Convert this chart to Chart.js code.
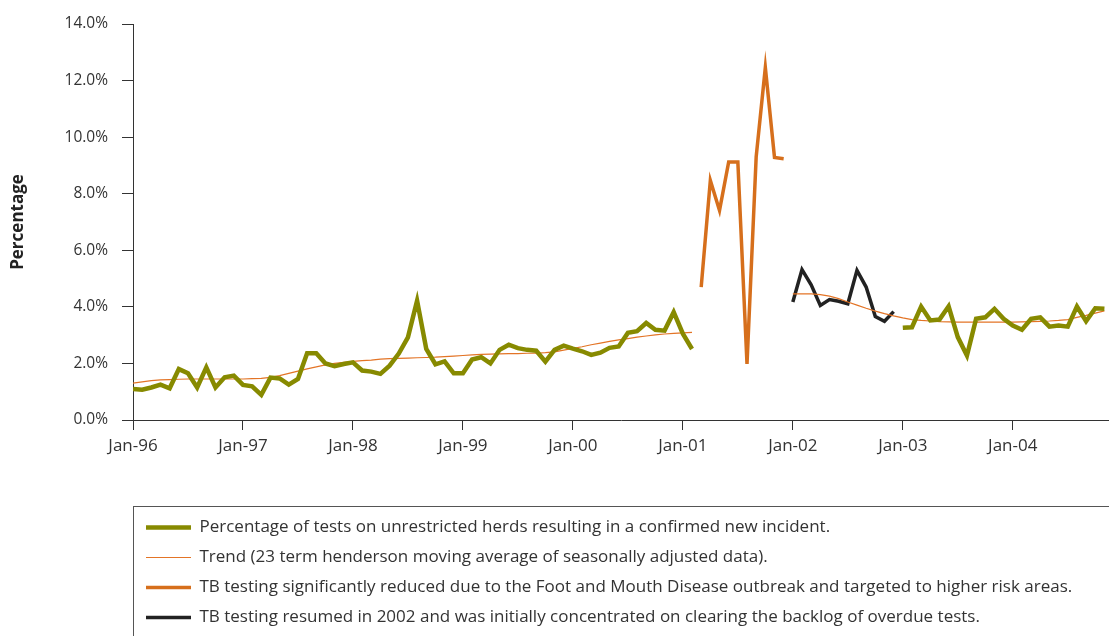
<!DOCTYPE html>
<html>
<head>
<meta charset="utf-8">
<script src="https://cdn.jsdelivr.net/npm/chart.js@4.4.1/dist/chart.umd.min.js"></script>
<style>
  html, body { margin: 0; padding: 0; background: #fff; overflow: hidden; }
  #wrap { position: relative; width: 1109px; height: 636px; }
</style>
</head>
<body>
<div id="wrap"><canvas id="c"></canvas></div>
<script>
// Tick labels (one per January)
const yearTicks = ['Jan-96','Jan-97','Jan-98','Jan-99','Jan-00','Jan-01','Jan-02','Jan-03','Jan-04'];

// Month index of the first value in each series (0 = Jan-96)
const startIncidenceA = 0;   // Jan-96
const startFmd = 62;         // Mar-01
const startResumed = 72;     // Jan-02
const startIncidenceB = 84;  // Jan-03
const startTrendA = 0;       // Jan-96
const startTrendB = 72;      // Jan-02

// Percentage of tests on unrestricted herds resulting in a confirmed new incident (Jan-96 .. Feb-01)
const incidenceA = [1.10,1.07,1.15,1.25,1.12,1.80,1.65,1.15,1.86,1.15,1.51,1.57,
                    1.24,1.19,0.89,1.50,1.47,1.25,1.45,2.36,2.36,2.00,1.90,1.98,
                    2.04,1.75,1.71,1.63,1.92,2.35,2.92,4.22,2.51,1.97,2.07,1.65,
                    1.65,2.14,2.22,2.00,2.48,2.66,2.54,2.48,2.45,2.06,2.48,2.63,
                    2.52,2.43,2.30,2.38,2.55,2.60,3.08,3.14,3.43,3.19,3.16,3.81,
                    3.05,2.51];
// Same series, Jan-03 onwards
const incidenceB = [3.26,3.28,4.01,3.52,3.55,4.02,2.93,2.28,3.58,3.63,3.93,3.58,
                    3.34,3.19,3.58,3.63,3.30,3.34,3.30,4.01,3.49,3.95,3.93];
// FMD outbreak period (Mar-01 .. Dec-01)
const fmdPeriod = [4.70,8.47,7.41,9.12,9.12,1.98,9.30,12.46,9.28,9.24];
// Testing resumed 2002 (Jan-02 .. Dec-02)
const resumed2002 = [4.17,5.32,4.78,4.05,4.26,4.20,4.11,5.29,4.70,3.66,3.49,3.83];
// Trend (23 term Henderson moving average)
const trendA = [1.30,1.35,1.39,1.42,1.43,1.44,1.45,1.45,1.45,1.45,1.45,1.45,
                1.45,1.46,1.47,1.51,1.57,1.65,1.73,1.81,1.88,1.95,2.00,2.04,
                2.07,2.10,2.12,2.15,2.17,2.18,2.19,2.20,2.21,2.22,2.24,2.26,
                2.28,2.30,2.32,2.33,2.34,2.35,2.35,2.36,2.36,2.38,2.41,2.47,
                2.53,2.59,2.66,2.72,2.78,2.83,2.88,2.93,2.97,3.01,3.04,3.06,
                3.08,3.10];
const trendB = [4.46,4.46,4.46,4.43,4.38,4.29,4.17,4.06,3.95,3.85,3.76,3.68,
                3.61,3.55,3.52,3.50,3.48,3.47,3.46,3.46,3.46,3.46,3.46,3.46,
                3.46,3.47,3.48,3.49,3.50,3.52,3.55,3.63,3.70,3.78,3.86];

const legendLabels = [
  'Percentage of tests on unrestricted herds resulting in a confirmed new incident.',
  'Trend (23 term henderson moving average of seasonally adjusted data).',
  'TB testing significantly reduced due to the Foot and Mouth Disease outbreak and targeted to higher risk areas.',
  'TB testing resumed in 2002 and was initially concentrated on clearing the backlog of overdue tests.'
];

const toPoints = (start, arr) => arr.map((y, i) => ({ x: start + i, y: y }));
const gap = (x) => [{ x: x, y: null }];

const FONT = "'Open Sans', 'Noto Sans', sans-serif";
Chart.defaults.font.family = FONT;
Chart.defaults.color = '#333';

const legendBorder = {
  id: 'legendBorder',
  afterDraw(chart) {
    const lg = chart.legend;
    if (!lg) return;
    const ctx = chart.ctx;
    ctx.save();
    ctx.strokeStyle = '#555';
    ctx.lineWidth = 1;
    ctx.strokeRect(Math.round(lg.left) + 0.5, Math.round(lg.top) + 0.5, 2000, 400);
    ctx.restore();
  }
};

new Chart(document.getElementById('c'), {
  type: 'line',
  data: {
    datasets: [
      {
        label: legendLabels[0],
        data: toPoints(startIncidenceA, incidenceA).concat(gap(startFmd), toPoints(startIncidenceB, incidenceB)),
        borderColor: '#878a00',
        backgroundColor: '#878a00',
        borderWidth: 4.5
      },
      {
        label: legendLabels[1],
        data: toPoints(startTrendA, trendA).concat(gap(startFmd), toPoints(startTrendB, trendB)),
        borderColor: '#e37426',
        backgroundColor: '#e37426',
        borderWidth: 1.2
      },
      {
        label: legendLabels[2],
        data: toPoints(startFmd, fmdPeriod),
        borderColor: '#d66f1c',
        backgroundColor: '#d66f1c',
        borderWidth: 3.5
      },
      {
        label: legendLabels[3],
        data: toPoints(startResumed, resumed2002),
        borderColor: '#222222',
        backgroundColor: '#222222',
        borderWidth: 3.5
      }
    ]
  },
  options: {
    responsive: true,
    maintainAspectRatio: false,
    animation: false,
    spanGaps: false,
    elements: { point: { radius: 0, hoverRadius: 0 }, line: { tension: 0, borderJoinStyle: 'miter' } },
    layout: { padding: { top: 24, right: 0, bottom: 0, left: 0 } },
    plugins: {
      tooltip: { enabled: false },
      legend: {
        position: 'bottom',
        align: 'start',
        fullSize: false,
        labels: {
          usePointStyle: true,
          pointStyle: 'line',
          pointStyleWidth: 45,
          boxHeight: 17,
          padding: 13,
          color: '#333',
          font: { size: 17, family: FONT }
        }
      }
    },
    scales: {
      x: {
        type: 'linear',
        min: 0,
        max: 106.5,
        afterBuildTicks(scale) {
          scale.ticks = yearTicks.map((_, i) => ({ value: i * 12 }));
        },
        afterFit(scale) { scale.height = 86; },
        grid: { drawOnChartArea: false, drawTicks: true, tickLength: 10, color: '#333' },
        border: { display: true, color: '#333', width: 1 },
        ticks: {
          autoSkip: false,
          maxRotation: 0,
          padding: 6,
          color: '#333',
          font: { size: 17 },
          callback: (v) => yearTicks[Math.round(v / 12)]
        }
      },
      y: {
        min: 0,
        max: 14,
        afterFit(scale) { scale.width = 133; },
        grid: { drawOnChartArea: false, drawTicks: true, tickLength: 11, color: '#333' },
        border: { display: true, color: '#333', width: 1 },
        ticks: {
          stepSize: 2,
          padding: 14,
          color: '#333',
          font: { size: 15.5 },
          callback: (v) => v.toFixed(1) + '%'
        },
        title: {
          display: true,
          text: 'Percentage',
          color: '#222',
          font: { size: 17, weight: 'bold' },
          padding: { top: 8, bottom: 0 }
        }
      }
    }
  },
  plugins: [legendBorder]
});
</script>
</body>
</html>
